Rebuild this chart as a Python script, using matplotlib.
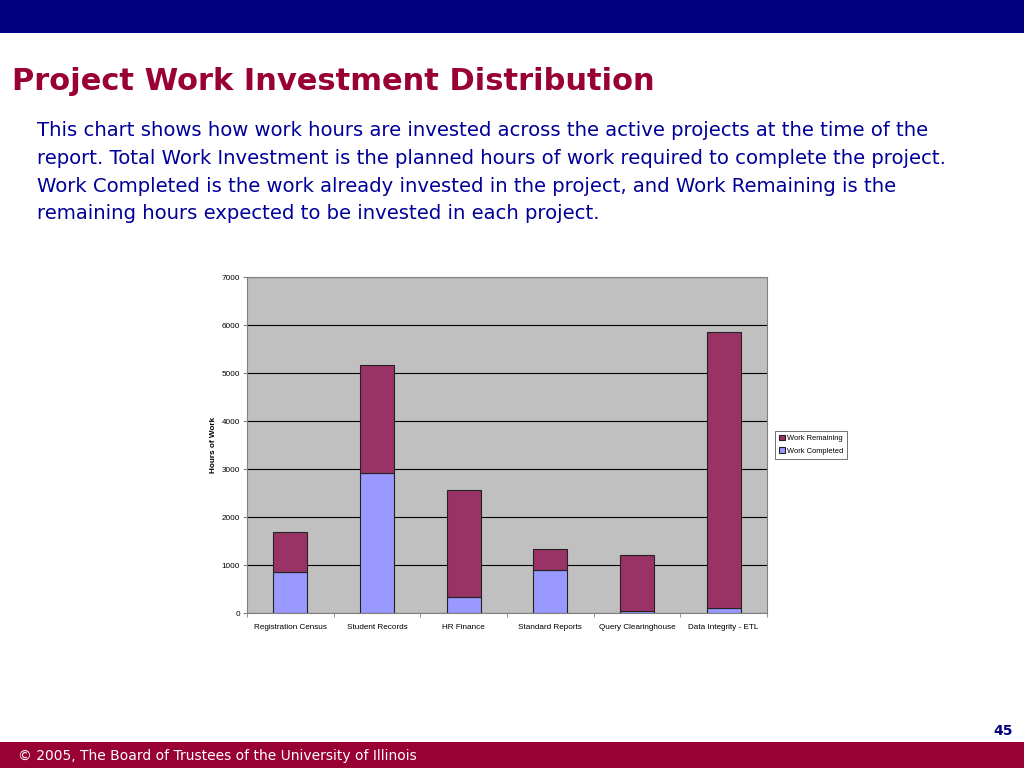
import matplotlib
matplotlib.use("Agg")
import matplotlib.pyplot as plt
from matplotlib.patches import Rectangle

projects = ["Registration Census", "Student Records", "HR Finance",
            "Standard Reports", "Query Clearinghouse", "Data Integrity - ETL"]
work_completed = [854, 2920, 340, 900, 50, 100]
work_remaining = [836, 2240, 2220, 430, 1160, 5760]
y_ticks = [0, 1000, 2000, 3000, 4000, 5000, 6000, 7000]

title = "Project Work Investment Distribution"
body = ["This chart shows how work hours are invested across the active projects at the time of the",
        "report. Total Work Investment is the planned hours of work required to complete the project.",
        "Work Completed is the work already invested in the project, and Work Remaining is the",
        "remaining hours expected to be invested in each project."]
footer = "\u00a9 2005, The Board of Trustees of the University of Illinois"
page = "45"

W, H = 1024, 768
fig = plt.figure(figsize=(W/100, H/100), dpi=100)
fig.patch.set_facecolor("white")

# header and footer bars
fig.add_artist(Rectangle((0, 1 - 33/H), 1, 33/H, transform=fig.transFigure,
                         facecolor="#000080", edgecolor="none"))
fig.add_artist(Rectangle((0, 0), 1, 26/H, transform=fig.transFigure,
                         facecolor="#990033", edgecolor="none"))

fig.text(12/W, 1 - 82/H, title, color="#990033", fontsize=22, fontweight="bold",
         family="DejaVu Sans", va="center", ha="left")
for i, line in enumerate(body):
    fig.text(37/W, 1 - (131 + i*27.5)/H, line, color="#000099", fontsize=14.1,
             family="DejaVu Sans", va="center", ha="left")
fig.text(18/W, 12/H, footer, color="white", fontsize=10, family="DejaVu Sans",
         va="center", ha="left")
fig.text(1013/W, 1 - 731/H, page, color="#000080", fontsize=10, fontweight="bold",
         family="DejaVu Sans", va="center", ha="right")

ax = fig.add_axes([247/W, 1 - 613/H, 520/W, 336/H])
ax.set_facecolor("#C0C0C0")
x = list(range(len(projects)))
ax.bar(x, work_completed, width=0.39, color="#9999FF", edgecolor="#222222",
       linewidth=0.8, label="Work Completed", zorder=3)
ax.bar(x, work_remaining, width=0.39, bottom=work_completed, color="#993366",
       edgecolor="#222222", linewidth=0.8, label="Work Remaining", zorder=3)
ax.set_xlim(-0.5, len(projects) - 0.5)
ax.set_ylim(0, 7000)
ax.set_yticks(y_ticks)
ax.set_yticklabels([str(t) for t in y_ticks], fontsize=5.9, family="Liberation Sans")
ax.yaxis.grid(True, color="black", linewidth=0.8, zorder=1)
ax.set_axisbelow(True)
ax.set_xticks(x)
ax.set_xticklabels(projects, fontsize=5.9, family="Liberation Sans")
ax.set_xticks([i + 0.5 for i in x[:-1]] + [-0.5, len(projects) - 0.5], minor=True)
ax.tick_params(axis="x", which="major", length=0, pad=8)
ax.tick_params(axis="x", which="minor", length=3, color="#808080")
ax.tick_params(axis="y", length=3, color="#808080", pad=2)
for s in ["top", "right", "left", "bottom"]:
    ax.spines[s].set_color("#808080")
    ax.spines[s].set_linewidth(0.8)
ax.set_ylabel("Hours of Work", fontsize=5.9, fontweight="bold", family="Liberation Sans",
              labelpad=3)

handles, labels = ax.get_legend_handles_labels()
leg = fig.legend(handles[::-1], labels[::-1], loc="upper left",
                 bbox_to_anchor=(775/W, 1 - 431/H), fontsize=5.4, frameon=True,
                 fancybox=False, edgecolor="#333333", handlelength=0.8, handleheight=0.8,
                 handletextpad=0.3, borderpad=0.5, labelspacing=0.7, borderaxespad=0)
for t in leg.get_texts():
    t.set_family("Liberation Sans")
leg.get_frame().set_linewidth(0.6)

fig.savefig("out.png", dpi=100)
